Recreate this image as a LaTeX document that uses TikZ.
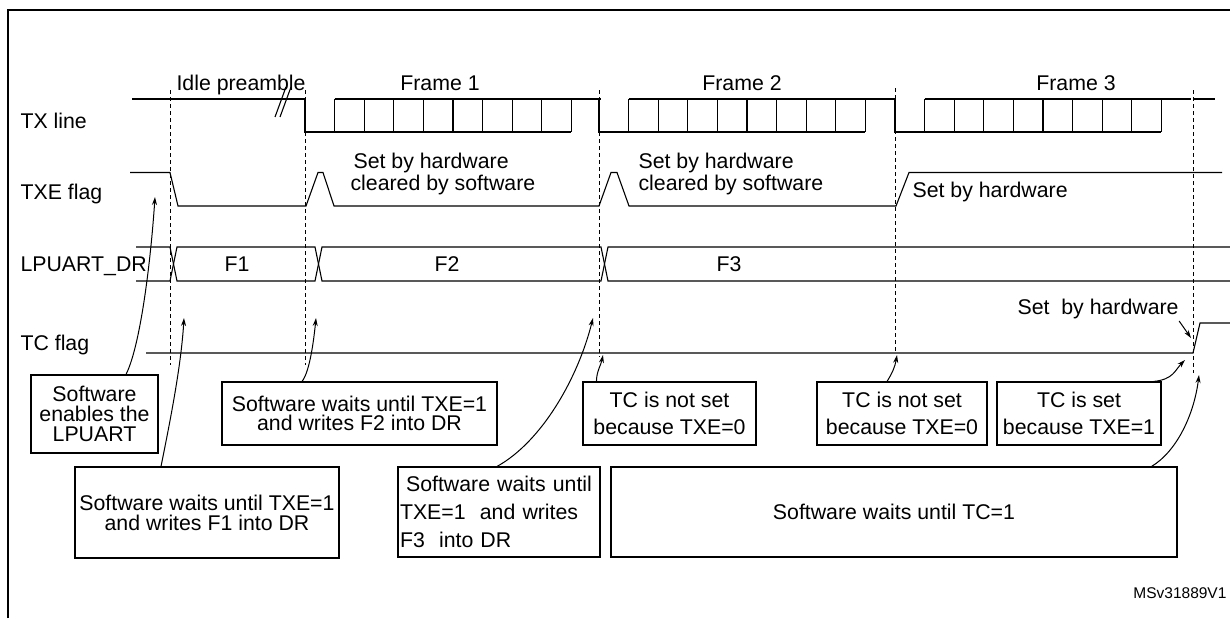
\documentclass[tikz,border=0pt]{standalone}
\usepackage{fontspec}
\setmainfont{Liberation Sans}
\usetikzlibrary{arrows.meta}

\newcommand{\betu}[1]{\fontsize{21.3}{#1}\selectfont}

\begin{document}
\begin{tikzpicture}[x=1pt,y=-1pt,>={Stealth[length=8pt,width=5pt]},line width=1.1pt,
doboz/.style={rectangle,draw,line width=1.1pt,inner sep=0pt,align=center},
felirat/.style={anchor=base west,inner sep=0pt,font=\betu{24}},
cim/.style={anchor=base,inner sep=0pt,font=\betu{24}},
szaggatott/.style={line width=0.9pt,dash pattern=on 4pt off 3pt}]

\pgfmathsetmacro{\bit}{29.6}
\pgfmathsetmacro{\magas}{99}
\pgfmathsetmacro{\alacsony}{132}

\useasboundingbox (0,0) rectangle (1230,618);
\draw[line width=2.2pt] (8,618)--(8,10)--(1230,10);

% jelek bal oldalon
\node[felirat](tx-label) at (20,128){TX line};
\node[felirat](txe-label) at (20,199){TXE flag};
\node[felirat](dr-label) at (20,271){LPUART\_DR};
\node[felirat](tc-label) at (20,350){TC flag};

\node[felirat](idle) at (176,90){Idle preamble};
\node[cim](frame-1) at (440,90){Frame 1};
\node[cim](frame-2) at (742,90){Frame 2};
\node[cim](frame-3) at (1076,90){Frame 3};

% szaggatott vonalak
\draw[szaggatott] (170,90)--(170,365);
\draw[szaggatott] (305,90)--(305,365);
\draw[szaggatott] (599,90)--(599,357);
\draw[szaggatott] (895,88)--(895,353);
\draw[szaggatott] (1193,90)--(1193,373);

% TX line
\draw (132,\magas)--(305,\magas);
\draw (1193,\magas)--(1215,\magas);
\foreach \s in {305,599,895}{
  \draw (\s,\magas)--(\s,\alacsony)--({\s+9*\bit},\alacsony);
  \draw ({\s+\bit},\magas)--({\s+10*\bit},\magas);
  \foreach \k in {1,...,9}
    \draw ({\s+\k*\bit},\magas)--({\s+\k*\bit},\alacsony);
}
\draw (275,117)--(286,87);
\draw (280,117)--(291,87);

% TXE flag
\draw (130,172.5)--(170,172.5)--(178,206)--(306,206)--(318,172.5)--(323,172.5)--(334,206)
  --(599,206)--(611,172.5)--(617,172.5)--(629,206)--(896,206)--(909,172.5)--(1222,172.5);
\node[felirat](hw-1) at (353,168){Set by hardware};
\node[felirat](sw-1) at (350,190){cleared by software};
\node[felirat](hw-2) at (638,168){Set by hardware};
\node[felirat](sw-2) at (638,190){cleared by software};
\node[felirat](hw-3) at (912,197){Set by hardware};

% LPUART_DR
\draw (136,247)--(170,247)--(177,281)--(315,281)--(322,247)--(601,247)--(608,281)--(1230,281);
\draw (136,281)--(170,281)--(177,247)--(315,247)--(322,281)--(601,281)--(608,247)--(1230,247);
\node[cim](f1) at (237,271.5){F1};
\node[cim](f2) at (447,271.5){F2};
\node[cim](f3) at (729,271.5){F3};

% TC flag
\draw (146,353)--(1193,353)--(1200,323)--(1230,323);
\node[felirat](hw-tc) at (1017,314){Set\ \ by hardware};

% dobozok
\node[doboz,minimum width=127pt,minimum height=78pt,font=\betu{20}](sw-enable) at (94.5,414)
  {Software\\enables the\\LPUART};
\node[doboz,minimum width=275pt,minimum height=63pt,font=\betu{19}](wait-f2) at (359.5,413.5)
  {Software waits until TXE=1\\and writes F2 into DR};
\node[doboz,minimum width=264pt,minimum height=91pt,font=\betu{20}](wait-f1) at (207,512.5)
  {Software waits until TXE=1\\and writes F1 into DR};
\node[doboz,minimum width=202pt,minimum height=90pt,align=left,text width=198pt,font=\betu{28}](wait-f3) at (499,512)
  {\makebox[198pt][c]{Software waits until}\\TXE=1\ \ and writes\\F3\ \ into DR};
\node[doboz,minimum width=173pt,minimum height=63pt,font=\betu{27}](tc-not-1) at (669.5,413.5)
  {TC is not set\\because TXE=0};
\node[doboz,minimum width=170pt,minimum height=63pt,font=\betu{27}](tc-not-2) at (902,413.5)
  {TC is not set\\because TXE=0};
\node[doboz,minimum width=164pt,minimum height=63pt,font=\betu{27}](tc-set) at (1079,413.5)
  {TC is set\\because TXE=1};
\node[doboz,minimum width=566pt,minimum height=90pt,font=\betu{24}](wait-tc) at (894,512)
  {Software waits until TC=1};

\node[anchor=base east,inner sep=0pt,font=\fontsize{15.5}{18}\selectfont](msv) at (1227,598){MSv31889V1};

% nyilak
\coordinate(txe-pont) at (155,197);
\coordinate(f1-pont) at (184,318);
\coordinate(f2-pont) at (316,318);
\coordinate(f3-pont) at (593,318);
\coordinate(tc-pont-1) at (603,355);
\coordinate(tc-pont-2) at (897,355);
\coordinate(tc-pont-3) at (1185,360);
\coordinate(tc-pont-4) at (1199,375);
\coordinate(tc-hw-pont) at (1191,338);

\begin{scope}[->,line width=1pt]
\draw ([xshift=31.5pt]sw-enable.north) .. controls +(15,-30) and +(-4,60) .. (txe-pont);
\draw ([xshift=-46pt]wait-f1.north) .. controls +(8,-40) and +(-3,50) .. (f1-pont);
\draw ([xshift=-57.5pt]wait-f2.north) .. controls +(8,-10) and +(-2,20) .. (f2-pont);
\draw ([xshift=-2pt]wait-f3.north) .. controls +(45,-25) and +(-15,60) .. (f3-pont);
\draw ([xshift=14pt]tc-not-1.north west) .. controls +(0,-10) and +(-2,10) .. (tc-pont-1);
\draw ([xshift=-15pt]tc-not-2.north) .. controls +(5,-8) and +(-2,12) .. (tc-pont-2);
\draw ([xshift=-8pt]tc-set.north east) .. controls +(20,-2) and +(-10,10) .. (tc-pont-3);
\draw ([xshift=-26pt]wait-tc.north east) .. controls +(25,-15) and +(-5,40) .. (tc-pont-4);
\draw ([yshift=-7pt]hw-tc.base east) -- (tc-hw-pont);
\end{scope}

\end{tikzpicture}
\end{document}
